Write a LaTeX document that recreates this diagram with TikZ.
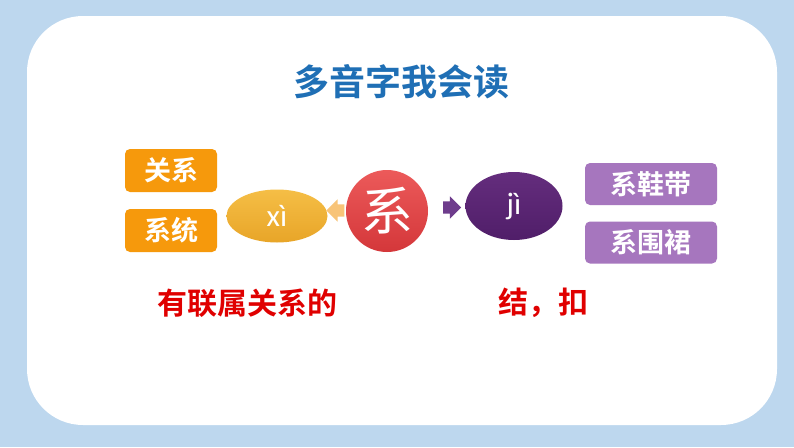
\documentclass[tikz,border=0pt]{standalone}
\usepackage{fontspec}
\usetikzlibrary{shapes.geometric,shapes.arrows}
\newfontfamily\cjk{Noto Sans CJK SC}[BoldFont={Noto Sans CJK SC Bold}]
\newfontfamily\latinf{Carlito}
\definecolor{bgblue}{RGB}{189,215,238}
\definecolor{titleblue}{RGB}{31,111,181}
\definecolor{orangebox}{RGB}{246,153,12}
\definecolor{goldtop}{RGB}{245,190,70}
\definecolor{goldbot}{RGB}{232,165,40}
\definecolor{redtop}{RGB}{236,90,90}
\definecolor{redbot}{RGB}{212,55,58}
\definecolor{purtop}{RGB}{100,45,125}
\definecolor{purbot}{RGB}{80,30,105}
\definecolor{purplebox}{RGB}{166,118,190}
\definecolor{larrow}{RGB}{248,196,120}
\definecolor{rarrow}{RGB}{110,60,140}
\definecolor{labelred}{RGB}{224,0,0}
\tikzset{
  obox/.style={rectangle, rounded corners=5pt, fill=orangebox, text=white,
    minimum width=92pt, minimum height=43pt, inner sep=0pt,
    font=\cjk\bfseries\fontsize{27}{27}\selectfont},
  pbox/.style={rectangle, rounded corners=5pt, fill=purplebox, text=white,
    minimum width=132pt, minimum height=42pt, inner sep=0pt,
    font=\cjk\bfseries\fontsize{27}{27}\selectfont},
  xiell/.style={ellipse, top color=goldtop, bottom color=goldbot, text=white,
    minimum width=101pt, minimum height=53pt, inner sep=0pt,
    font=\latinf\fontsize{31}{31}\selectfont},
  jiell/.style={ellipse, top color=purtop, bottom color=purbot, text=white,
    minimum width=97pt, minimum height=68pt, inner sep=0pt,
    font=\latinf\fontsize{31}{31}\selectfont},
  redc/.style={circle, top color=redtop, bottom color=redbot, text=white,
    minimum size=82pt, inner sep=0pt,
    font=\cjk\fontsize{52}{52}\selectfont},
  blockarrow/.style={single arrow, inner xsep=0pt, inner ysep=6pt,
    minimum height=18pt, single arrow head extend=5pt, single arrow head indent=0pt},
  redlabel/.style={text=labelred, font=\cjk\bfseries\fontsize{30}{30}\selectfont},
  titletext/.style={text=titleblue, font=\cjk\bfseries\fontsize{36}{36}\selectfont}
}
\begin{document}
\begin{tikzpicture}[x=1pt,y=-1pt]
\useasboundingbox (0,0) rectangle (794,447);
\fill[bgblue] (0,0) rectangle (794,447);
\fill[white, rounded corners=56pt] (27,16) rectangle (777,425);
\node[titletext] (title) at (401,82) {多音字我会读};
\node[obox] (guanxi) at (171,170.5) {关系};
\node[obox] (xitong) at (171,230.5) {系统};
\node[xiell] (xi) at (277,216) {xì};
\node[blockarrow, fill=larrow, shape border rotate=180] (la) at (338.5,210.5) {};
\node[redc] (xichar) at (387,211) {系};
\node[blockarrow, fill=rarrow] (ra) at (449,207.5) {};
\node[jiell] (ji) at (514,206) {jì};
\node[pbox] (p1) at (651,184) {系鞋带};
\node[pbox] (p2) at (651,242.5) {系围裙};
\node[redlabel] (l1) at (247,303) {有联属关系的};
\node[redlabel] (l2) at (543,303) {结，扣};
\end{tikzpicture}
\end{document}
